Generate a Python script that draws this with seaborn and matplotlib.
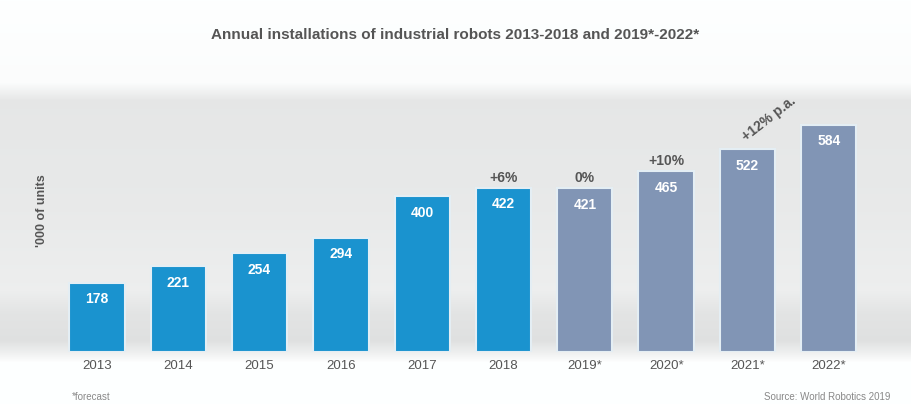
import numpy as np
import pandas as pd
import matplotlib
matplotlib.use("Agg")
import matplotlib.pyplot as plt
import seaborn as sns

years = ["2013", "2014", "2015", "2016", "2017", "2018", "2019*", "2020*", "2021*", "2022*"]
values = [178, 221, 254, 294, 400, 422, 421, 465, 522, 584]
kinds = ["actual"] * 6 + ["forecast"] * 4
growth_years = ["2018", "2019*", "2020*"]
growth_labels = ["+6%", "0%", "+10%"]
cagr_label = "+12% p.a."
title = "Annual installations of industrial robots 2013-2018 and 2019*-2022*"
ylabel = "'000 of units"
foot_left = "*forecast"
foot_right = "Source: World Robotics 2019"

df = pd.DataFrame({"year": years, "value": values, "kind": kinds})

sns.set_theme(style="white")
plt.rcParams["font.family"] = ["Liberation Sans", "DejaVu Sans"]

W, H = 911, 404
fig = plt.figure(figsize=(W / 100, H / 100), dpi=100)
fig.patch.set_facecolor("white")

# background gradient
bg = fig.add_axes([0, 0, 1, 1], zorder=0)
rows = np.arange(H)
stops = [0, 82, 100, 200, 290, 312, 340, 352, 362, 404]
levels = [1.0, 0.99, 0.905, 0.915, 0.935, 0.895, 0.88, 0.94, 1.0, 1.0]
g = np.interp(rows, stops, levels)
img = np.stack([g * 0.995, g, g], axis=-1)[:, None, :]
img = np.repeat(img, 4, axis=1)
bg.imshow(img, aspect="auto", extent=[0, 1, 0, 1])
bg.set_axis_off()

left_px, right_px = 40, 880
top_px, base_px = 80, 352
ax = fig.add_axes([left_px / W, (H - base_px) / H, (right_px - left_px) / W, (base_px - top_px) / H], zorder=1)
ax.patch.set_alpha(0)

sns.barplot(data=df, x="year", y="value", hue="kind", dodge=False, width=0.68, saturation=1,
            palette={"actual": "#1a93cf", "forecast": "#8195b5"}, legend=False, ax=ax,
            edgecolor="#e4eef4", linewidth=1.5)

ax.set_xlim(-0.70, 9.63)
ax.set_ylim(0, (base_px - top_px) / 0.389)
for s in ax.spines.values():
    s.set_visible(False)
ax.set_yticks([])
ax.set_xlabel("")
ax.set_ylabel(ylabel, fontsize=9, fontweight="bold", color="#555555")
ax.yaxis.set_label_coords(0.01, 0.52)
ax.tick_params(axis="x", length=0, pad=6, labelsize=9.5, labelcolor="#555555")

for c in ax.containers:
    ax.bar_label(c, fmt="%d", padding=-17, color="white", fontsize=10, fontweight="bold")

for yr, lab in zip(growth_years, growth_labels):
    i = years.index(yr)
    ax.annotate(lab, (i, values[i]), xytext=(0, 2), textcoords="offset points",
                ha="center", va="bottom", fontsize=10, fontweight="bold", color="#555555")

i1, i2 = years.index("2021*"), years.index("2022*")
ax.annotate(cagr_label, ((i1 + i2) / 2, values[i1]), xytext=(-14, 22), textcoords="offset points",
            rotation=38, ha="center", va="center", fontsize=10, fontweight="bold", color="#555555")

fig.text(0.5, 1 - 35 / H, title, ha="center", va="center", fontsize=11, fontweight="bold", color="#555555")
fig.text(72 / W, 1 - 397 / H, foot_left, ha="left", va="center", fontsize=7, color="#888888")
fig.text(890 / W, 1 - 397 / H, foot_right, ha="right", va="center", fontsize=7, color="#888888")

fig.savefig("out.png", dpi=100)
